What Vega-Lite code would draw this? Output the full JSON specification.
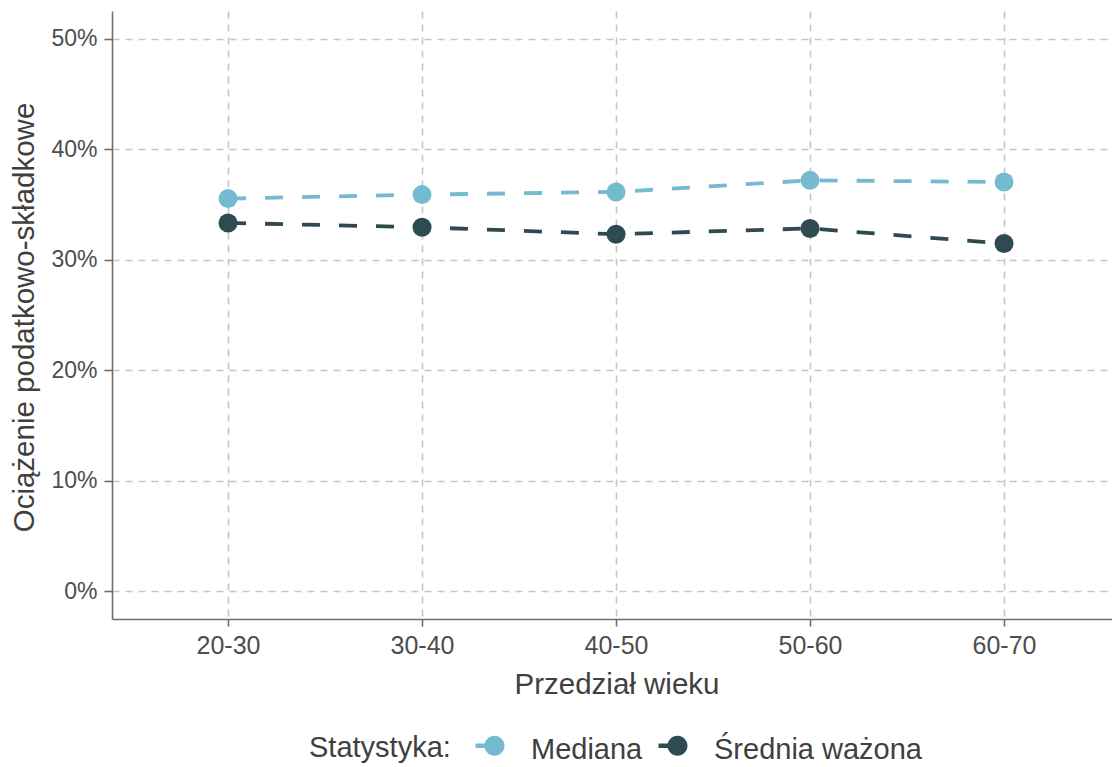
{
  "$schema": "https://vega.github.io/schema/vega-lite/v6.json",
  "autosize": {"type": "none"},
  "padding": {"left": 112, "top": 11, "right": 0, "bottom": 148},
  "width": 1000,
  "height": 608,
  "background": "white",
  "config": {
    "view": {"stroke": null},
    "font": "Liberation Sans",
    "axis": {
      "domainColor": "#6e6e6e",
      "domainWidth": 1.6,
      "tickColor": "#6e6e6e",
      "tickWidth": 1.6,
      "gridColor": "#c6c6c6",
      "gridWidth": 1.6,
      "gridDash": [7, 6],
      "labelColor": "#4d4d4d",
      "titleColor": "#404040",
      "titleFontWeight": "normal",
      "titleFontSize": 29.5
    }
  },
  "data": {
    "values": [
      {"grupa": "20-30", "stat": "Mediana", "wartosc": 0.3553},
      {"grupa": "30-40", "stat": "Mediana", "wartosc": 0.3589},
      {"grupa": "40-50", "stat": "Mediana", "wartosc": 0.3613},
      {"grupa": "50-60", "stat": "Mediana", "wartosc": 0.3718},
      {"grupa": "60-70", "stat": "Mediana", "wartosc": 0.3703},
      {"grupa": "20-30", "stat": "Średnia ważona", "wartosc": 0.3333},
      {"grupa": "30-40", "stat": "Średnia ważona", "wartosc": 0.3294},
      {"grupa": "40-50", "stat": "Średnia ważona", "wartosc": 0.3231},
      {"grupa": "50-60", "stat": "Średnia ważona", "wartosc": 0.3283},
      {"grupa": "60-70", "stat": "Średnia ważona", "wartosc": 0.3147}
    ]
  },
  "encoding": {
    "x": {
      "field": "grupa",
      "type": "ordinal",
      "scale": {"type": "point", "padding": 0.5773, "align": 0.518},
      "axis": {
        "title": "Przedział wieku",
        "labelAngle": 0,
        "labelFontSize": 25,
        "labelPadding": 7.5,
        "tickSize": 7,
        "grid": true,
        "titleX": 504.5,
        "titleY": 74.3,
        "titleBaseline": "alphabetic",
        "titleAlign": "center"
      }
    },
    "y": {
      "field": "wartosc",
      "type": "quantitative",
      "scale": {"domain": [-0.025, 0.525], "nice": false, "zero": false},
      "axis": {
        "title": "Ociążenie podatkowo-składkowe",
        "values": [0, 0.1, 0.2, 0.3, 0.4, 0.5],
        "format": ".0%",
        "labelFontSize": 23,
        "labelPadding": 7,
        "tickSize": 8,
        "grid": true,
        "titleX": -79,
        "titleY": 306,
        "titleAngle": -90,
        "titleBaseline": "alphabetic",
        "titleAlign": "center"
      }
    },
    "color": {
      "field": "stat",
      "type": "nominal",
      "scale": {"domain": ["Mediana", "Średnia ważona"], "range": ["#74BBD1", "#2F4A51"]},
      "legend": {
        "title": "Statystyka:",
        "orient": "none",
        "direction": "horizontal",
        "legendX": 197,
        "legendY": 720,
        "padding": 0,
        "titleOrient": "left",
        "titleFontSize": 29,
        "titleFontWeight": "normal",
        "titleColor": "#404040",
        "titleBaseline": "middle",
        "titlePadding": 29,
        "labelFontSize": 29,
        "labelColor": "#404040",
        "labelLimit": 500,
        "labelOffset": 22,
        "columnPadding": 15,
        "symbolSize": 400,
        "symbolType": "M-1.9,-0.22L-0.8,-0.22L-0.8,0.22L-1.9,0.22Z M1,0 A1,1 0 1,1 -1,0 A1,1 0 1,1 1,0 Z",
        "symbolStrokeWidth": 0,
        "symbolOpacity": 1,
        "encode": {
          "symbols": {"update": {"fill": {"scale": "color", "field": "value"}, "strokeWidth": {"value": 0}, "opacity": {"value": 1}}},
          "labels": {"update": {"dy": {"value": 4}}}
        }
      }
    }
  },
  "layer": [
    {
      "mark": {"type": "line", "strokeWidth": 3.8, "strokeDash": [18, 19]}
    },
    {
      "mark": {"type": "point", "filled": true, "size": 361, "opacity": 1}
    }
  ]
}
